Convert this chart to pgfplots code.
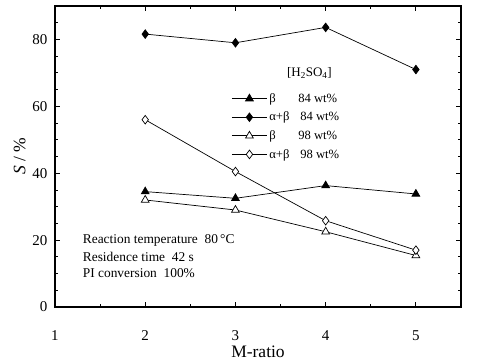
\documentclass[border=0pt]{standalone}
\usepackage{pgfplots}
\pgfplotsset{compat=1.18}
\usepackage{fontspec}
\setmainfont{Liberation Serif}
\begin{document}
\begin{tikzpicture}
\begin{axis}[
  width=406pt, height=301pt, scale only axis,
  xmin=1, xmax=5.5, ymin=0, ymax=90,
  xtick={1,2,3,4,5}, minor xtick={1.5,2.5,3.5,4.5},
  ytick={0,20,40,60,80}, minor ytick={5,10,15,25,30,35,45,50,55,65,70,75,85},
  tick align=inside,
  major tick length=5pt, minor tick length=3pt,
  axis line style={line width=1.3pt},
  every tick/.style={black, line width=0.8pt},
  /pgf/number format/assume math mode=true,
  tick label style={font=\fontsize{15}{17}\selectfont},
  xticklabel style={yshift=-20pt},
  yticklabel style={xshift=-4pt},
  xlabel={M-ratio}, ylabel={\textit{S} / \%},
  label style={font=\fontsize{17.5}{19}\selectfont},
  xlabel style={yshift=2pt},
  ylabel style={yshift=0pt},
  legend style={at={(0.432,0.72)}, anchor=north west, draw=none, fill=none,
    font=\fontsize{12.6}{13.5}\selectfont, row sep=4.2pt, inner sep=1pt},
  legend cell align=left,
  legend image code/.code={\draw[mark repeat=2,mark phase=2,#1] plot coordinates {(0pt,0pt)(17.5pt,0pt)(35pt,0pt)};},
  clip=false,
]
\addplot[black, line width=0.7pt, mark=triangle*, mark size=4.5pt, mark options={fill=black, solid}]
  coordinates {(2,34.5) (3,32.5) (4,36.3) (5,33.8)};
\addlegendentry{\makebox[29pt][l]{β}84 wt\%}
\addplot[black, line width=0.7pt, mark=diamond*, mark size=4.3pt, mark options={fill=black, solid}]
  coordinates {(2,81.6) (3,79) (4,83.6) (5,71)};
\addlegendentry{\makebox[31pt][l]{α+β}84 wt\%}
\addplot[black, line width=0.7pt, mark=triangle*, mark size=4.5pt, mark options={fill=white, solid}]
  coordinates {(2,32) (3,29) (4,22.5) (5,15.4)};
\addlegendentry{\makebox[29pt][l]{β}98 wt\%}
\addplot[black, line width=0.7pt, mark=diamond*, mark size=4.3pt, mark options={fill=white, solid}]
  coordinates {(2,56) (3,40.5) (4,25.8) (5,17)};
\addlegendentry{\makebox[31pt][l]{α+β}98 wt\%}
\node[font=\fontsize{13}{14}\selectfont] at (axis cs:3.82,70) {[H\textsubscript{2}SO\textsubscript{4}]};
\node[anchor=west, font=\fontsize{13.4}{15}\selectfont] at (axis cs:1.27,20) {Reaction temperature~~80\,°C};
\node[anchor=west, font=\fontsize{13.4}{15}\selectfont] at (axis cs:1.27,15) {Residence time~~42 s};
\node[anchor=west, font=\fontsize{13.4}{15}\selectfont] at (axis cs:1.27,10) {PI conversion~~100\%};
\end{axis}
\path ([xshift=-55pt,yshift=-57pt]current axis.south west) rectangle ([xshift=24pt,yshift=6pt]current axis.north east);
\end{tikzpicture}
\end{document}
